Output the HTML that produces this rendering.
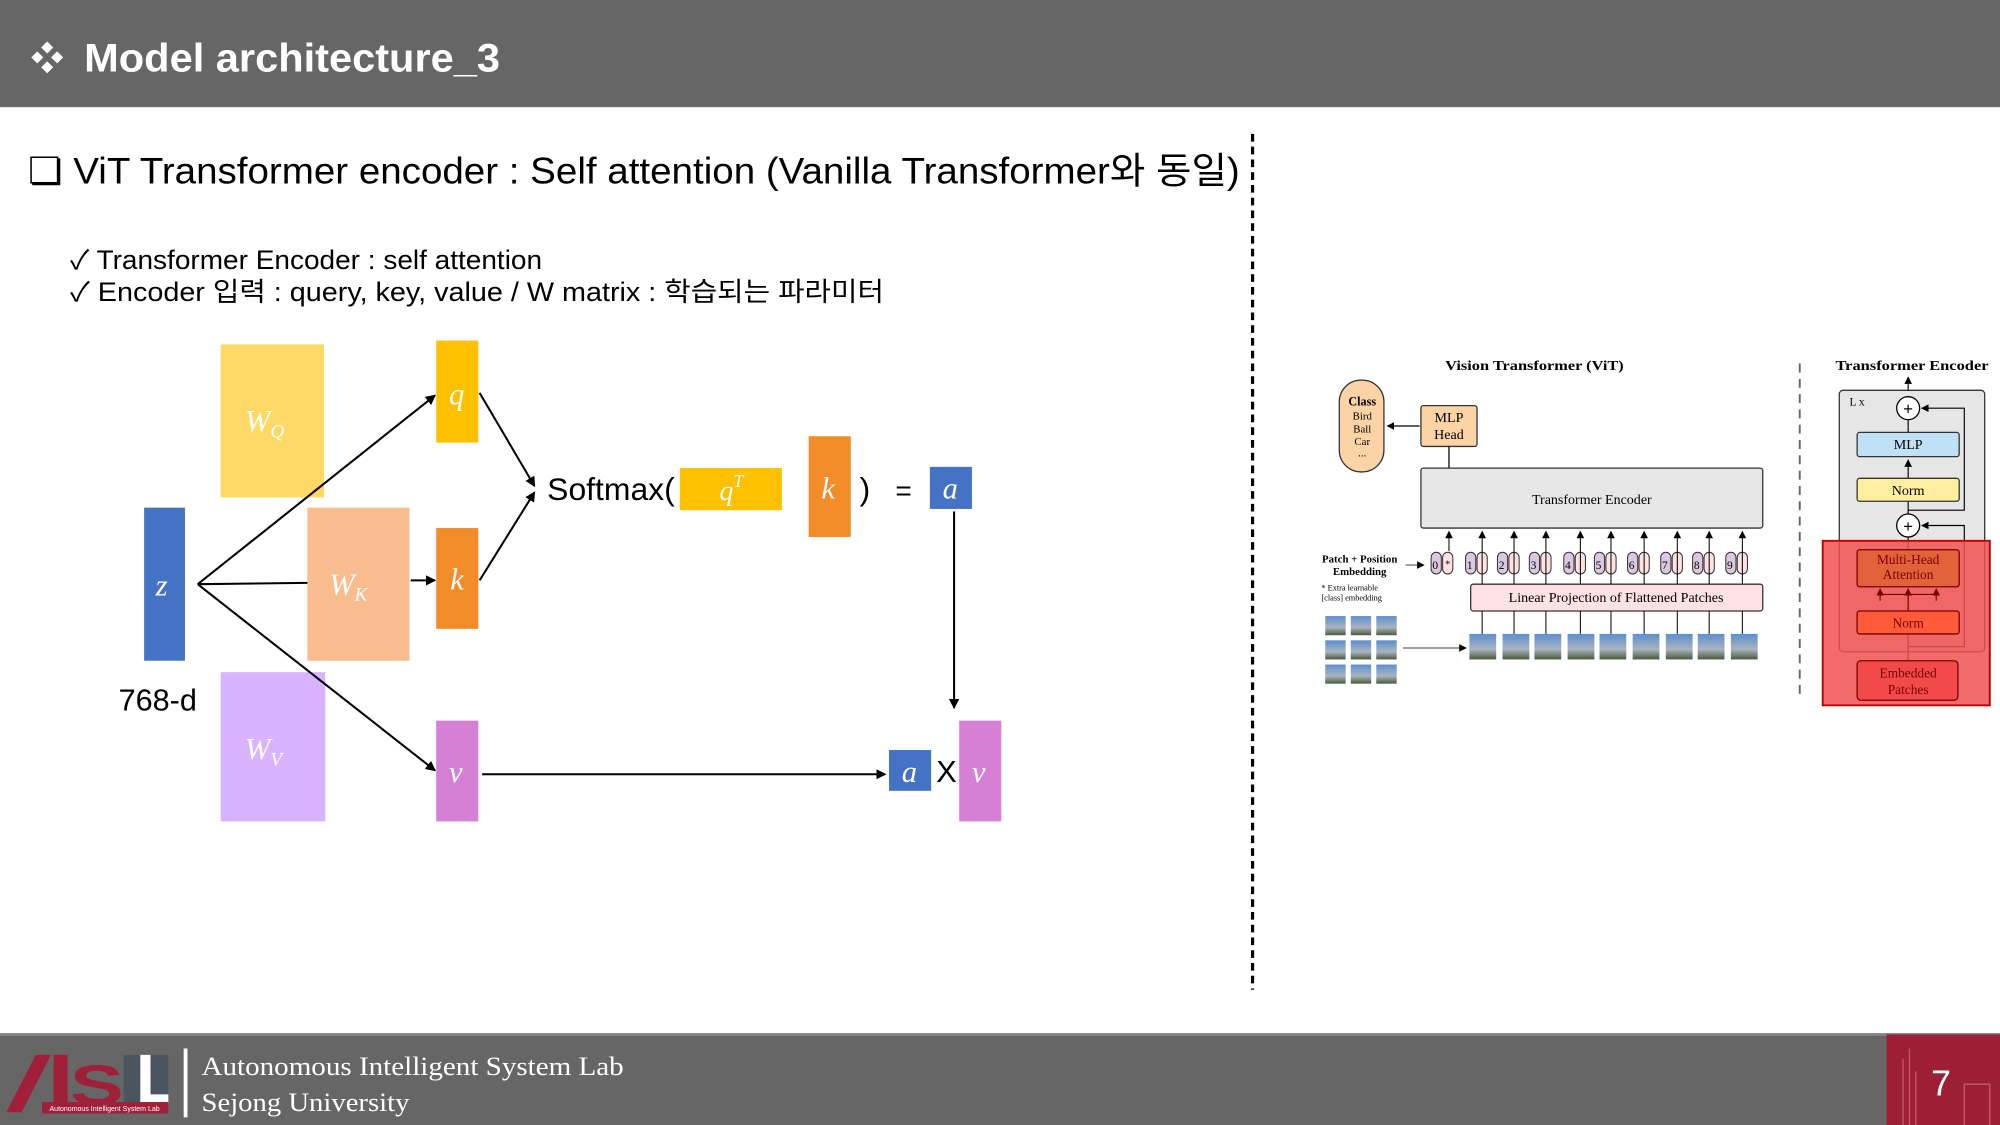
<!DOCTYPE html>
<html><head><meta charset="utf-8"><style>
html,body{margin:0;padding:0;background:#fff;width:2000px;height:1125px;overflow:hidden}
svg{display:block}
.s{font-family:"Liberation Sans","Noto Sans CJK KR",sans-serif}
.r{font-family:"Liberation Serif","DejaVu Serif",serif}
</style></head><body>
<svg width="2000" height="1125" viewBox="0 0 1568 882" xmlns="http://www.w3.org/2000/svg">
<defs>
<marker id="ar" markerWidth="8" markerHeight="8" refX="7" refY="4" orient="auto" markerUnits="userSpaceOnUse"><path d="M0,0 L8,4 L0,8 z" fill="#000"/></marker>
<marker id="as" markerWidth="6" markerHeight="6" refX="5" refY="3" orient="auto" markerUnits="userSpaceOnUse"><path d="M0,0 L6,3 L0,6 z" fill="#000"/></marker>
<marker id="ad" markerWidth="6" markerHeight="6" refX="5" refY="3" orient="auto" markerUnits="userSpaceOnUse"><path d="M0,0 L6,3 L0,6 z" fill="#7a0000"/></marker>
<linearGradient id="pg" x1="0" y1="0" x2="0" y2="1"><stop offset="0" stop-color="#5c8fd0"/><stop offset="0.6" stop-color="#a9b4c0"/><stop offset="1" stop-color="#4a5a3a"/></linearGradient>
</defs>
<rect x="0" y="0" width="1568" height="84" fill="#666"/>
<text x="24" y="55" class="s" font-size="26" fill="#fff" font-weight="bold">❖</text>
<text x="66" y="56" class="s" font-size="31" fill="#fff" font-weight="bold" textLength="326" lengthAdjust="spacingAndGlyphs">Model architecture_3</text>
<text x="22" y="144" class="s" font-size="29" fill="#000" textLength="950" lengthAdjust="spacingAndGlyphs">❏ ViT Transformer encoder : Self attention (Vanilla Transformer와 동일)</text>
<text x="55" y="211" class="s" font-size="21" fill="#000" textLength="370" lengthAdjust="spacingAndGlyphs">✓ Transformer Encoder : self attention</text>
<text x="55" y="236" class="s" font-size="21" fill="#000" textLength="638" lengthAdjust="spacingAndGlyphs">✓ Encoder 입력 : query, key, value / W matrix : 학습되는 파라미터</text>
<line x1="982" y1="105" x2="982" y2="776" stroke="#000" stroke-width="2.5" stroke-dasharray="6,4"/>
<rect x="173" y="270" width="81" height="120" fill="#ffd966"/>
<rect x="241" y="398" width="80" height="120" fill="#f8bc8f"/>
<rect x="173" y="527" width="82" height="117" fill="#d9b3ff"/>
<rect x="113" y="398" width="32" height="120" fill="#4472c4"/>
<rect x="342" y="267" width="33" height="80" fill="#ffc000"/>
<rect x="342" y="414" width="33" height="79" fill="#f28c28"/>
<rect x="342" y="565" width="33" height="79" fill="#d57fd5"/>
<g stroke="#000" stroke-width="1.6" fill="none">
<line x1="155" y1="458" x2="341" y2="310" marker-end="url(#ar)"/>
<line x1="155" y1="458" x2="241" y2="457"/>
<line x1="322" y1="455" x2="341" y2="455" marker-end="url(#ar)"/>
<line x1="155" y1="458" x2="341" y2="604" marker-end="url(#ar)"/>
<line x1="376" y1="308" x2="419" y2="381" marker-end="url(#ar)"/>
<line x1="376" y1="455" x2="419" y2="386" marker-end="url(#ar)"/>
<line x1="748" y1="401" x2="748" y2="555" marker-end="url(#ar)"/>
<line x1="378" y1="607" x2="694" y2="607" marker-end="url(#ar)"/>
</g>
<g class="r" font-style="italic" fill="#fff">
<text x="192" y="338" font-size="24">W<tspan font-size="15" dy="5">Q</tspan></text>
<text x="258" y="466" font-size="24">W<tspan font-size="15" dy="5">K</tspan></text>
<text x="192" y="595" font-size="24">W<tspan font-size="15" dy="5">V</tspan></text>
<text x="122" y="467" font-size="24">z</text>
<text x="352" y="317" font-size="24">q</text>
<text x="353" y="462" font-size="24">k</text>
<text x="352" y="613" font-size="24">v</text>
</g>
<text x="93" y="557" class="s" font-size="24">768-d</text>
<text x="429" y="392" class="s" font-size="25">Softmax(</text>
<rect x="533" y="367" width="80" height="33" fill="#ffc000"/>
<text x="564" y="392" class="r" font-style="italic" font-size="22" fill="#fff">q<tspan font-size="14" dy="-10">T</tspan></text>
<rect x="634" y="342" width="33" height="79" fill="#f28c28"/>
<text x="644" y="391" class="r" font-style="italic" font-size="24" fill="#fff">k</text>
<text x="674" y="392" class="s" font-size="25">)</text>
<text x="702" y="392" class="s" font-size="22">=</text>
<rect x="729" y="366" width="33" height="33" fill="#4472c4"/>
<text x="739" y="391" class="r" font-style="italic" font-size="24" fill="#fff">a</text>
<rect x="697" y="588" width="33" height="32" fill="#4472c4"/>
<text x="707" y="613" class="r" font-style="italic" font-size="24" fill="#fff">a</text>
<text x="734" y="613" class="s" font-size="24">X</text>
<rect x="752" y="565" width="33" height="79" fill="#d57fd5"/>
<text x="762" y="613" class="r" font-style="italic" font-size="24" fill="#fff">v</text>
<text x="1133" y="290" class="r" font-size="11" font-weight="bold" textLength="140" lengthAdjust="spacingAndGlyphs">Vision Transformer (ViT)</text>
<rect x="1050" y="298" width="35" height="72" rx="17" fill="#fbd3a5" stroke="#333"/>
<g class="r" font-size="8.5" text-anchor="middle"><text x="1068" y="318" font-weight="bold" font-size="9.5">Class</text><text x="1068" y="329">Bird</text><text x="1068" y="339">Ball</text><text x="1068" y="349">Car</text><text x="1068" y="358">...</text></g>
<rect x="1114" y="318" width="44" height="32" rx="2" fill="#fbd3a5" stroke="#333"/>
<text x="1136" y="331" class="r" font-size="11" text-anchor="middle">MLP</text><text x="1136" y="344" class="r" font-size="11" text-anchor="middle">Head</text>
<line x1="1113" y1="334" x2="1088" y2="334" stroke="#000" marker-end="url(#as)"/>
<line x1="1136" y1="350" x2="1136" y2="367" stroke="#000"/>
<rect x="1114" y="367" width="268" height="47" rx="2" fill="#e6e6e6" stroke="#333"/>
<text x="1248" y="395" class="r" font-size="11" text-anchor="middle">Transformer Encoder</text>
<text x="1066" y="441" class="r" font-size="8.5" font-weight="bold" text-anchor="middle">Patch + Position</text>
<text x="1066" y="451" class="r" font-size="8.5" font-weight="bold" text-anchor="middle">Embedding</text>
<line x1="1102" y1="443" x2="1116" y2="443" stroke="#777" marker-end="url(#as)"/>
<text x="1036" y="463" class="r" font-size="6.5">* Extra learnable</text>
<text x="1036" y="471" class="r" font-size="6.5">[class] embedding</text>
<rect x="1153" y="458" width="229" height="21" rx="2" fill="#fde1e3" stroke="#333"/>
<text x="1267" y="472" class="r" font-size="11" text-anchor="middle">Linear Projection of Flattened Patches</text>
<g stroke="#333" stroke-width="0.8">
<rect x="1122" y="433" width="8" height="17" rx="4" fill="#d9c8e0"/><rect x="1131" y="433" width="8" height="17" rx="4" fill="#fde1e3"/>
<rect x="1149" y="433" width="8" height="17" rx="4" fill="#d9c8e0"/><rect x="1158" y="433" width="8" height="17" rx="4" fill="#fde1e3"/>
<rect x="1174" y="433" width="8" height="17" rx="4" fill="#d9c8e0"/><rect x="1183" y="433" width="8" height="17" rx="4" fill="#fde1e3"/>
<rect x="1199" y="433" width="8" height="17" rx="4" fill="#d9c8e0"/><rect x="1208" y="433" width="8" height="17" rx="4" fill="#fde1e3"/>
<rect x="1226" y="433" width="8" height="17" rx="4" fill="#d9c8e0"/><rect x="1235" y="433" width="8" height="17" rx="4" fill="#fde1e3"/>
<rect x="1250" y="433" width="8" height="17" rx="4" fill="#d9c8e0"/><rect x="1259" y="433" width="8" height="17" rx="4" fill="#fde1e3"/>
<rect x="1276" y="433" width="8" height="17" rx="4" fill="#d9c8e0"/><rect x="1285" y="433" width="8" height="17" rx="4" fill="#fde1e3"/>
<rect x="1302" y="433" width="8" height="17" rx="4" fill="#d9c8e0"/><rect x="1311" y="433" width="8" height="17" rx="4" fill="#fde1e3"/>
<rect x="1327" y="433" width="8" height="17" rx="4" fill="#d9c8e0"/><rect x="1336" y="433" width="8" height="17" rx="4" fill="#fde1e3"/>
<rect x="1353" y="433" width="8" height="17" rx="4" fill="#d9c8e0"/><rect x="1362" y="433" width="8" height="17" rx="4" fill="#fde1e3"/>
</g>
<g class="r" font-size="9">
<text x="1123" y="446">0</text><text x="1133" y="445" font-size="8">*</text>
<text x="1150" y="446">1</text><text x="1175" y="446">2</text><text x="1200" y="446">3</text><text x="1227" y="446">4</text><text x="1251" y="446">5</text><text x="1277" y="446">6</text><text x="1303" y="446">7</text><text x="1328" y="446">8</text><text x="1354" y="446">9</text>
</g>
<g stroke="#000" stroke-width="0.8">
<line x1="1136" y1="432" x2="1136" y2="417" marker-end="url(#as)"/>
<line x1="1162" y1="458" x2="1162" y2="417" marker-end="url(#as)"/>
<line x1="1187" y1="458" x2="1187" y2="417" marker-end="url(#as)"/>
<line x1="1212" y1="458" x2="1212" y2="417" marker-end="url(#as)"/>
<line x1="1239" y1="458" x2="1239" y2="417" marker-end="url(#as)"/>
<line x1="1263" y1="458" x2="1263" y2="417" marker-end="url(#as)"/>
<line x1="1289" y1="458" x2="1289" y2="417" marker-end="url(#as)"/>
<line x1="1315" y1="458" x2="1315" y2="417" marker-end="url(#as)"/>
<line x1="1340" y1="458" x2="1340" y2="417" marker-end="url(#as)"/>
<line x1="1366" y1="458" x2="1366" y2="417" marker-end="url(#as)"/>
<line x1="1162" y1="479" x2="1162" y2="497"/><line x1="1187" y1="479" x2="1187" y2="497"/><line x1="1212" y1="479" x2="1212" y2="497"/><line x1="1239" y1="479" x2="1239" y2="497"/><line x1="1263" y1="479" x2="1263" y2="497"/><line x1="1289" y1="479" x2="1289" y2="497"/><line x1="1315" y1="479" x2="1315" y2="497"/><line x1="1340" y1="479" x2="1340" y2="497"/><line x1="1366" y1="479" x2="1366" y2="497"/>
</g>
<g fill="url(#pg)">
<rect x="1152" y="497" width="21" height="20"/><rect x="1178" y="497" width="21" height="20"/><rect x="1203" y="497" width="21" height="20"/><rect x="1229" y="497" width="21" height="20"/><rect x="1254" y="497" width="21" height="20"/><rect x="1280" y="497" width="21" height="20"/><rect x="1306" y="497" width="21" height="20"/><rect x="1331" y="497" width="21" height="20"/><rect x="1357" y="497" width="21" height="20"/>
<rect x="1039" y="483" width="16" height="15"/><rect x="1059" y="483" width="16" height="15"/><rect x="1079" y="483" width="16" height="15"/>
<rect x="1039" y="502" width="16" height="15"/><rect x="1059" y="502" width="16" height="15"/><rect x="1079" y="502" width="16" height="15"/>
<rect x="1039" y="521" width="16" height="15"/><rect x="1059" y="521" width="16" height="15"/><rect x="1079" y="521" width="16" height="15"/>
</g>
<line x1="1100" y1="508" x2="1149" y2="508" stroke="#666" marker-end="url(#as)"/>
<line x1="1411" y1="285" x2="1411" y2="547" stroke="#666" stroke-width="1.5" stroke-dasharray="7,5"/>
<text x="1439" y="290" class="r" font-size="11" font-weight="bold" textLength="120" lengthAdjust="spacingAndGlyphs">Transformer Encoder</text>
<rect x="1442" y="306" width="114" height="205" rx="3" fill="#e6e6e6" stroke="#333"/>
<text x="1450" y="318" class="r" font-size="9">L x</text>
<g stroke="#000" stroke-width="0.9" fill="none">
<line x1="1496" y1="306" x2="1496" y2="296" marker-end="url(#as)"/>
<line x1="1496" y1="339" x2="1496" y2="329"/>
<line x1="1496" y1="375" x2="1496" y2="361" marker-end="url(#as)"/>
<line x1="1496" y1="403" x2="1496" y2="393"/>
<polyline points="1496,400 1540,400 1540,320 1507,320" marker-end="url(#as)"/>
<polyline points="1496,507 1540,507 1540,412 1507,412" marker-end="url(#as)"/>
<line x1="1496" y1="421" x2="1496" y2="518"/>
</g>
<circle cx="1496" cy="320" r="9" fill="#fff" stroke="#000"/><text x="1496" y="325" font-size="13" text-anchor="middle" class="s">+</text>
<circle cx="1496" cy="412" r="9" fill="#fff" stroke="#000"/><text x="1496" y="417" font-size="13" text-anchor="middle" class="s">+</text>
<rect x="1456" y="339" width="80" height="19" rx="2" fill="#bfe0f5" stroke="#333"/>
<text x="1496" y="352" class="r" font-size="11" text-anchor="middle">MLP</text>
<rect x="1456" y="375" width="80" height="18" rx="2" fill="#fdeea0" stroke="#333"/>
<text x="1496" y="388" class="r" font-size="11" text-anchor="middle">Norm</text>
<rect x="1429" y="424" width="131" height="129" fill="#f05050" fill-opacity="0.85" stroke="#c00000" stroke-width="1.5"/>
<rect x="1456" y="431" width="80" height="29" rx="2" fill="#e2623c" stroke="#7a0000"/>
<text x="1496" y="442" class="r" font-size="10.5" text-anchor="middle" fill="#7a0000">Multi-Head</text>
<text x="1496" y="454" class="r" font-size="10.5" text-anchor="middle" fill="#7a0000">Attention</text>
<g stroke="#7a0000" fill="none" stroke-width="0.9">
<polyline points="1474,471 1474,466 1518,466 1518,471"/><line x1="1496" y1="479" x2="1496" y2="462" marker-end="url(#ad)"/><line x1="1474" y1="467" x2="1474" y2="462" marker-end="url(#ad)"/><line x1="1518" y1="467" x2="1518" y2="462" marker-end="url(#ad)"/>
</g>
<rect x="1456" y="479" width="80" height="18" rx="2" fill="#ff5a3a" stroke="#7a0000"/>
<text x="1496" y="492" class="r" font-size="10.5" text-anchor="middle" fill="#7a0000">Norm</text>
<rect x="1456" y="518" width="79" height="31" rx="3" fill="#f24a4a" stroke="#7a0000"/>
<text x="1496" y="531" class="r" font-size="10.5" text-anchor="middle" fill="#7a0000">Embedded</text>
<text x="1496" y="544" class="r" font-size="10.5" text-anchor="middle" fill="#7a0000">Patches</text>
<rect x="0" y="810" width="1568" height="72" fill="#666"/>
<rect x="0" y="810" width="1568" height="2" fill="#888"/>
<polygon points="5,872 28,827 40,827 17,872" fill="#a0203a"/>
<rect x="42" y="827" width="11" height="45" fill="#a0203a"/>
<text x="55" y="866" class="s" font-size="44" font-weight="bold" fill="#a0203a" textLength="42" lengthAdjust="spacingAndGlyphs">S</text>
<rect x="97" y="827" width="35" height="45" fill="#4a5560"/>
<polygon points="110,827 118,827 118,858 132,858 132,866 110,866" fill="#fff"/>
<rect x="33" y="864" width="99" height="9" fill="#a0203a"/>
<text x="82" y="871" class="s" font-size="5.5" fill="#fff" text-anchor="middle">Autonomous Intelligent System Lab</text>
<rect x="144" y="822" width="3" height="54" fill="#fff"/>
<text x="158" y="843" class="r" font-size="21" fill="#fff" textLength="331" lengthAdjust="spacingAndGlyphs">Autonomous Intelligent System Lab</text>
<text x="158" y="871" class="r" font-size="21" fill="#fff" textLength="163" lengthAdjust="spacingAndGlyphs">Sejong University</text>
<rect x="1479" y="811" width="89" height="71" fill="#9c1f36"/>
<g stroke="#c65a6a" stroke-width="1" fill="none"><path d="M1492,882 V830 M1497,882 V822 M1502,882 V840 M1540,882 V850 H1560 V882"/></g>
<text x="1514" y="859" class="s" font-size="28" fill="#fff">7</text>
</svg>
</body></html>
